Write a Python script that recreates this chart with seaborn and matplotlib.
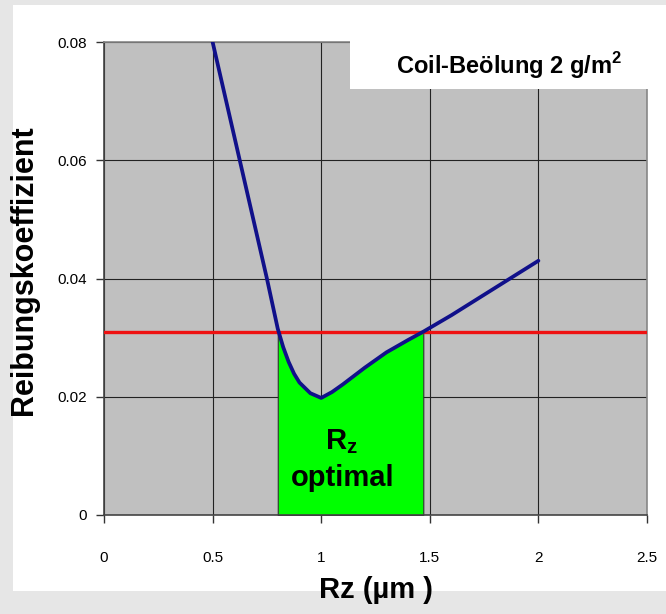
import matplotlib
matplotlib.use("Agg")
import matplotlib.pyplot as plt
from matplotlib.patches import Rectangle
import numpy as np
import pandas as pd
import seaborn as sns

# Reibungskoeffizient over Rz
rz = [0.5, 0.6, 0.7, 0.75, 0.8, 0.825, 0.85, 0.875, 0.9, 0.95, 1.0, 1.05, 1.1, 1.2, 1.3, 1.4, 1.47, 1.6, 1.8, 2.0]
mu = [0.080, 0.064, 0.048, 0.040, 0.0315, 0.0284, 0.0259, 0.0239, 0.0224, 0.0206, 0.0198, 0.0208, 0.0221,
      0.0249, 0.0275, 0.0296, 0.0310, 0.0338, 0.0384, 0.0430]
mu_limit = 0.031
rz_opt = (0.8, 1.47)

x_ticks = [0, 0.5, 1, 1.5, 2, 2.5]
x_ticklabels = ["0", "0.5", "1", "1.5", "2", "2.5"]
y_ticks = [0, 0.02, 0.04, 0.06, 0.08]
y_ticklabels = ["0", "0.02", "0.04", "0.06", "0.08"]

title = r"Coil-Beölung 2 g/m$^\mathbf{2}$"
x_label = "Rz (µm )"
y_label = "Reibungskoeffizient"

df = pd.DataFrame({"rz": rz, "mu": mu})

sns.set_style("white")
plt.rcParams["font.family"] = ["Liberation Sans", "DejaVu Sans"]
plt.rcParams["mathtext.fontset"] = "custom"
plt.rcParams["mathtext.bf"] = "Liberation Sans:bold"
plt.rcParams["mathtext.rm"] = "Liberation Sans"
plt.rcParams["text.color"] = "black"
plt.rcParams["xtick.color"] = "#333333"
plt.rcParams["ytick.color"] = "#333333"
plt.rcParams["xtick.labelcolor"] = "black"
plt.rcParams["ytick.labelcolor"] = "black"

fig = plt.figure(figsize=(6.66, 6.14), dpi=100, facecolor="#e6e6e6")
# white panel behind the chart
fig.add_artist(Rectangle((13 / 666, 1 - 591 / 614), 1 - 13 / 666, 586 / 614,
                         transform=fig.transFigure, facecolor="white", edgecolor="none", zorder=-1))

ax = fig.add_axes([104 / 666, 1 - 515 / 614, 543 / 666, 473 / 614])
ax.set_facecolor("#c0c0c0")

# optimal Rz window under the curve
sel = df[(df.rz >= rz_opt[0]) & (df.rz <= rz_opt[1])]
ax.fill_between(sel.rz, 0, sel.mu, facecolor="#00ff00", edgecolor="#303030", linewidth=0.8, zorder=2)

ax.axhline(mu_limit, color="#ee1111", linewidth=2.4, zorder=3)
sns.lineplot(data=df, x="rz", y="mu", color="#10108a", linewidth=2.7, ax=ax, zorder=4)

ax.set_xlim(0, 2.5)
ax.set_ylim(0, 0.08)
ax.set_xticks(x_ticks)
ax.set_xticklabels(x_ticklabels)
ax.set_yticks(y_ticks)
ax.set_yticklabels(y_ticklabels)
ax.grid(True, color="#222222", linewidth=0.8, zorder=1)
ax.set_axisbelow(True)
ax.tick_params(axis="both", direction="out", length=6, width=1,
               labelsize=11, left=True, bottom=True)
ax.tick_params(axis="x", pad=20)
ax.tick_params(axis="y", pad=6)
for side in ["left", "bottom"]:
    ax.spines[side].set_color("#444444")
    ax.spines[side].set_linewidth(1.2)
for side in ["top", "right"]:
    ax.spines[side].set_color("#888888")
    ax.spines[side].set_linewidth(1.2)
ax.set_xlabel("")
ax.set_ylabel("")

ax.text(1.095, 0.0124, r"$\mathbf{R_z}$", ha="center", va="center", fontsize=21, zorder=5)
ax.text(1.1, 0.0062, "optimal", ha="center", va="center", fontsize=21, fontweight="bold", zorder=5)

# title box at the upper right
fig.add_artist(Rectangle((350 / 666, 1 - 89 / 614), 298 / 666, 52 / 614,
                         transform=fig.transFigure, facecolor="white", edgecolor="none", zorder=5))
fig.text(509 / 666, 1 - 66 / 614, title, ha="center", va="center", fontsize=17,
         fontweight="bold", zorder=6)

fig.text(376 / 666, 1 - 590 / 614, x_label, ha="center", va="center", fontsize=21, fontweight="bold")
fig.text(24 / 666, 1 - 270 / 614, y_label, ha="center", va="center", rotation=90,
         fontsize=22, fontweight="bold")

fig.savefig("out.png", dpi=100, facecolor=fig.get_facecolor())
